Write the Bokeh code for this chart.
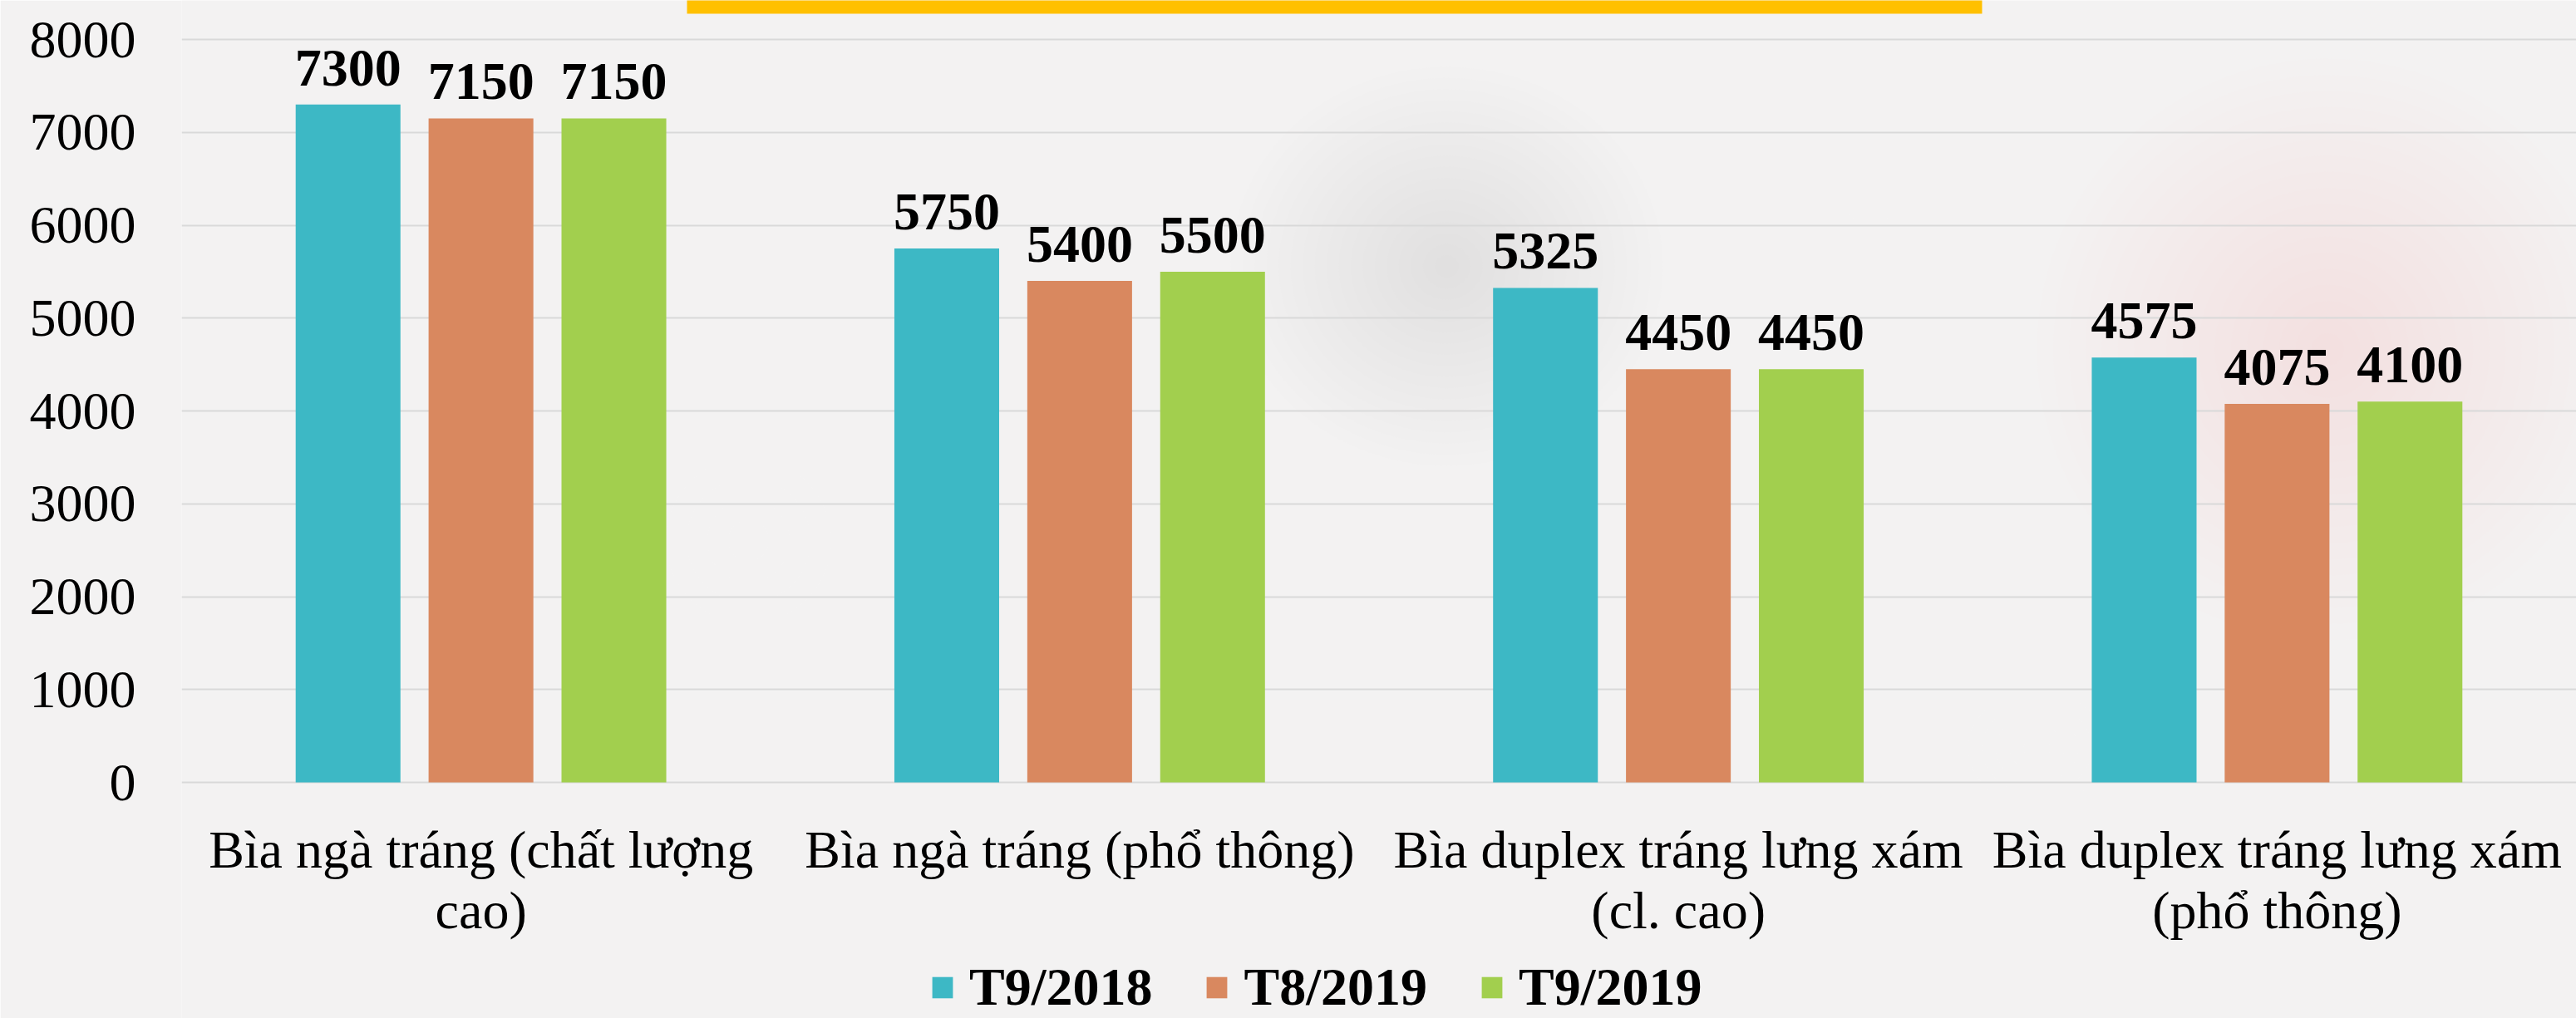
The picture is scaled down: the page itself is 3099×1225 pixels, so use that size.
from bokeh.plotting import figure
from bokeh.models import ColumnDataSource, FactorRange, FixedTicker, Legend, LegendItem, Range1d
from bokeh.core.properties import value
from bokeh.transform import dodge
from bokeh.embed import file_html
from bokeh.resources import INLINE

categories = [
    "Bìa ngà tráng (chất lượng\ncao)",
    "Bìa ngà tráng (phổ thông)",
    "Bìa duplex tráng lưng xám\n(cl. cao)",
    "Bìa duplex tráng lưng xám\n(phổ thông)",
]
series_names = ["T9/2018", "T8/2019", "T9/2019"]
t9_2018 = [7300, 5750, 5325, 4575]
t8_2019 = [7150, 5400, 4450, 4075]
t9_2019 = [7150, 5500, 4450, 4100]
colors = ["#3db8c5", "#d9885f", "#a2cf4e"]
y_ticks = [0, 1000, 2000, 3000, 4000, 5000, 6000, 7000, 8000]

FONT = "Liberation Serif"
W, H = 3099, 1225
FRAME_LEFT = 218
BG = "#f3f2f2"
px_per_unit = (941 - 47) / 8000.0
y_top = 8000 + 47 / px_per_unit
y_bot = -(H - 941) / px_per_unit
group_px = (W - FRAME_LEFT) / 4.0

p = figure(
    width=W, height=H, output_backend="svg", toolbar_location=None,
    x_range=FactorRange(*categories, range_padding=0),
    y_range=Range1d(y_bot, y_top),
    min_border_left=FRAME_LEFT, min_border_right=0, min_border_top=0, min_border_bottom=0,
)
p.background_fill_color = BG
p.border_fill_color = BG
p.outline_line_color = None
p.xaxis.visible = False
p.xgrid.grid_line_color = None


def glow(cx_px, cy_px, w_px, h_px, color, total_alpha, steps=18):
    # soft blurred patches imitating the photo backdrop
    a = total_alpha / steps
    for i in range(steps):
        f = 1.0 - i / steps
        p.ellipse(x=[(cx_px - FRAME_LEFT) / group_px], y=[8000 - (cy_px - 47) / px_per_unit],
                  width=[w_px * f / group_px], height=[h_px * f / px_per_unit],
                  fill_color=color, fill_alpha=a, line_color=None, level="underlay")


glow(2250, 250, 1000, 650, "#ffffff", 1.0)
glow(2800, 420, 700, 700, "#f5e3e3", 0.4)
glow(1740, 320, 520, 480, "#d9d8dd", 0.45)
glow(1550, 1170, 2200, 200, "#fbfbfc", 0.9)
glow(900, 650, 900, 900, "#f9f8f8", 0.6)
glow(2450, 900, 600, 500, "#f7f0f0", 0.5)

p.ygrid.grid_line_color = "#d9d9d9"
p.ygrid.grid_line_width = 2
p.ygrid.bounds = (0, 8000)
p.ygrid.ticker = FixedTicker(ticks=y_ticks)

p.yaxis.ticker = FixedTicker(ticks=y_ticks)
p.yaxis.axis_line_color = None
p.yaxis.major_tick_line_color = None
p.yaxis.minor_tick_line_color = None
p.yaxis.major_tick_out = 0
p.yaxis.major_label_standoff = 55
p.yaxis.major_label_text_font = FONT
p.yaxis.major_label_text_font_size = "64px"
p.yaxis.major_label_text_color = "black"

src = ColumnDataSource(dict(cat=categories, a=t9_2018, b=t8_2019, c=t9_2019,
                            la=[str(v) for v in t9_2018], lb=[str(v) for v in t8_2019],
                            lc=[str(v) for v in t9_2019]))

offsets = [-0.222, 0.0, 0.222]
renderers = []
for key, lab, off, col in zip(["a", "b", "c"], ["la", "lb", "lc"], offsets, colors):
    r = p.vbar(x=dodge("cat", off, range=p.x_range), top=key, width=0.175, bottom=0,
               source=src, fill_color=col, line_color=None)
    renderers.append(r)
    p.text(x=dodge("cat", off, range=p.x_range), y=key, text=lab, source=src,
           text_font=value(FONT), text_font_size="64px", text_font_style="bold",
           text_align="center", text_baseline="alphabetic", y_offset=-44, text_color="black")

# category labels (split into lines)
line1 = [c.split("\n")[0] for c in categories]
line2 = [c.split("\n")[1] if "\n" in c else "" for c in categories]
lsrc = ColumnDataSource(dict(cat=categories, l1=line1, l2=line2, y=[0] * len(categories)))
p.text(x="cat", y="y", text="l1", source=lsrc, text_font=value(FONT), text_font_size="64px",
       text_align="center", text_baseline="alphabetic", y_offset=81, text_color="black")
p.text(x="cat", y="y", text="l2", source=lsrc, text_font=value(FONT), text_font_size="64px",
       text_align="center", text_baseline="alphabetic", y_offset=154, text_color="black")

# yellow title banner strip at the top (title text cut off in the source)
p.quad(left=[(826 - FRAME_LEFT) / group_px], right=[(2384 - FRAME_LEFT) / group_px],
       top=[y_top + 10], bottom=[y_top - 16 / px_per_unit],
       fill_color="#ffc000", line_color=None)

legend = Legend(items=[LegendItem(label=n, renderers=[r]) for n, r in zip(series_names, renderers)],
                orientation="horizontal", location=(900, 0),
                glyph_width=31, glyph_height=32, label_standoff=17, spacing=62,
                padding=0, margin=0, border_line_color=None, background_fill_alpha=0,
                label_text_font=FONT, label_text_font_size="64px", label_text_font_style="bold",
                label_text_color="black")
p.add_layout(legend, "center")

open("out.html", "w").write(file_html(p, INLINE))
